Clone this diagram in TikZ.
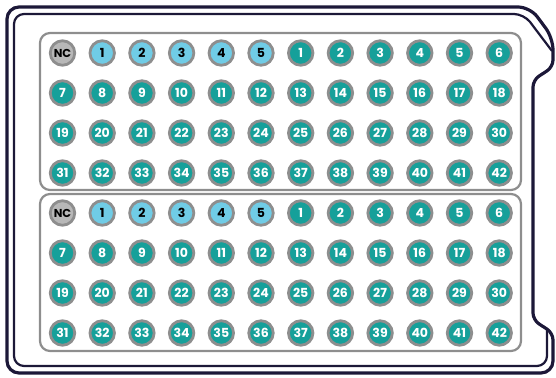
\documentclass[tikz,border=0pt]{standalone}
\usepackage{fontspec}
\setmainfont{Poppins}
\definecolor{navy}{HTML}{1C1838}
\definecolor{ring}{HTML}{8E8E8E}
\definecolor{tealw}{HTML}{16A09A}
\definecolor{bluew}{HTML}{70CCE6}
\definecolor{ncfill}{HTML}{B8B8B8}
\definecolor{plategray}{HTML}{8E8E8E}
\begin{document}
\begin{tikzpicture}[x=1pt,y=-1pt,
  well/.style={circle,draw=ring,line width=2.8pt,minimum size=24.5pt,inner sep=0pt,
    font=\fontsize{12.5}{13}\selectfont\bfseries,text=white,fill=tealw},
  bwell/.style={well,fill=bluew,text=black},
  ncwell/.style={well,fill=ncfill,text=black,font=\fontsize{11.5}{12}\selectfont\bfseries},
  plate/.style={draw=plategray,line width=2.2pt,rounded corners=10pt},
  outerline/.style={draw=navy,line width=3.2pt,line join=round},
  innerline/.style={draw=navy,line width=2.2pt,line join=round}]
\useasboundingbox (0,0) rectangle (556,377);
% outer housing
\draw[outerline,rounded corners=12pt] (7,7) -- (530,7) -- (553,38) [rounded corners=7pt] -- (553,67) -- (533,80) -- (533,320) -- (553,333) [rounded corners=12pt] -- (553,373) -- (7,373) -- cycle;
\draw[innerline,rounded corners=10pt] (552,51) -- (524,14) -- (14,14) -- (14,366) -- (547,366) [rounded corners=0pt] -- (547,330);
% plates
\draw[plate] (40,33) rectangle (521,190);
\draw[plate] (40,194) rectangle (521,351);
% wells
\foreach \p/\y in {a/53,b/213}{
  \node[ncwell] (\p-1-0) at (62.5,\y) {NC};
  \foreach \c in {1,...,5}{
    \node[bwell] (\p-1-\c) at ({62.5+39.7*\c},\y) {\c};
  }
  \foreach \c in {6,...,11}{
    \pgfmathtruncatemacro{\lab}{\c-5}
    \node[well] (\p-1-\c) at ({62.5+39.7*\c},\y) {\lab};
  }
  \foreach \r in {2,3,4}{
    \foreach \c in {0,...,11}{
      \pgfmathtruncatemacro{\lab}{(\r-2)*12+\c+7}
      \node[well] (\p-\r-\c) at ({62.5+39.7*\c},{\y+40*(\r-1)}) {\lab};
    }
  }
}
\end{tikzpicture}
\end{document}
